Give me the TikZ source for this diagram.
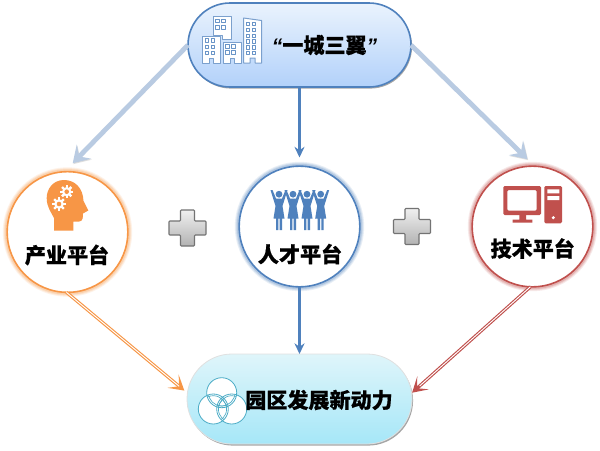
\documentclass[tikz,border=0pt]{standalone}
\usepackage{fontspec}
\newfontfamily\cjk{Noto Sans CJK SC}[BoldFeatures={FakeBold=0.6}]
\newfontfamily\latinq{Liberation Sans}
\usetikzlibrary{shadows,arrows.meta,calc,shapes.misc}
\definecolor{orangeC}{HTML}{F79646}
\definecolor{blueC}{HTML}{4F81BD}
\definecolor{redC}{HTML}{C0504D}
\definecolor{tealC}{HTML}{4BACC6}
\definecolor{paleC}{HTML}{B9CBE2}
\tikzset{
  every node/.style={inner sep=0pt,outer sep=0pt},
  label text/.style={font=\cjk\bfseries\fontsize{15.8pt}{18pt}\selectfont,text=black},
  pill/.style={rounded rectangle,minimum width=#1*0.75pt,
    drop shadow={shadow xshift=0.8pt,shadow yshift=-1.2pt,opacity=.35,fill=black}},
  glow/.style={
    preaction={draw=#1,line width=6.5pt,opacity=.12},
    preaction={draw=#1,line width=5pt,opacity=.16},
    preaction={draw=#1,line width=3.5pt,opacity=.22},
    draw=#1,line width=1.2pt,fill=white,circle,minimum size=90.5pt},
  palearrow/.style={draw=paleC,line width=3.6pt,-{Stealth[length=12pt,width=15pt,inset=5pt]},
    preaction={draw=black!25,opacity=.5,transform canvas={xshift=.5pt,yshift=-.7pt}}},
  straightarrow/.style={draw=blueC,line width=1.7pt,-{Stealth[length=8pt,width=7.5pt]}},
  dblarrow/.style={draw=#1,line width=2.4pt,-{Stealth[length=11pt,width=13pt,inset=6pt]},
    postaction={draw=white,line width=.7pt,-{},shorten >=8pt}},
  plus/.style={draw=black!55,line width=.8pt,top color=black!6,bottom color=black!30},
  iconline/.style={draw=#1,line width=.75pt,fill=white},
  win/.style={draw=blueC!85!white,line width=.55pt,fill=white},
  x=0.75pt,y=-0.75pt}
\begin{document}
\begin{tikzpicture}
\useasboundingbox[fill=white] (0,0) rectangle (600,450);
\definecolor{topA}{HTML}{EAF3FD}\definecolor{topB}{HTML}{CFE2FB}\definecolor{topC}{HTML}{B2D1FA}
\definecolor{botA}{HTML}{DFF5FA}\definecolor{botB}{HTML}{C6EEF8}\definecolor{botC}{HTML}{A6E7F8}

% main shapes
\node[pill=223,minimum height=63pt,draw=blueC,line width=1.2pt,top color=topA,middle color=topB,bottom color=topC] (top) at (299.5,45) {};
\node[pill=225,minimum height=67.5pt,draw=white!88!black,line width=.6pt,top color=botA,middle color=botB,bottom color=botC] (bottom) at (299.5,399) {};
\node[glow=orangeC] (left) at (67.5,232) {};
\node[glow=blueC] (mid) at (299.5,226.5) {};
\node[glow=redC] (right) at (532.5,226.5) {};

% connectors
\draw[palearrow,shorten >=9pt] (top.west) -- (left.93);
\draw[palearrow,shorten >=7.5pt] (top.east) -- (right.88);
\draw[straightarrow,shorten >=6.5pt] (top.south) -- (mid.north);
\draw[straightarrow] (mid.south) -- (bottom.north);
\draw[dblarrow=orangeC,shorten >=3pt] (left.-91) -- (bottom.177);
\draw[dblarrow=redC,shorten >=.5pt] (right.-92) -- (bottom.3);

% plus signs
\foreach \cx/\cy/\nm in {187.5/228/plusA,412/226.5/plusB}{
  \coordinate (\nm) at (\cx,\cy);
  \draw[plus,rounded corners=.6pt] ($(\nm)+(-7,-18)$) -- ++(14,0) -- ++(0,11) -- ++(11.5,0) -- ++(0,14) -- ++(-11.5,0)
    -- ++(0,11) -- ++(-14,0) -- ++(0,-11) -- ++(-11.5,0) -- ++(0,-14) -- ++(11.5,0) -- cycle;
}

% buildings icon
\begin{scope}[blueC,line join=round]
\draw[iconline=blueC!75!white] (213,16) -- (231,16) -- (231,39) -- (222,39) -- (222,35) -- (213,35) -- cycle;
\draw[iconline=blueC!75!white] (202.5,36) -- (220.5,36) -- (220.5,63) -- (213.5,63) -- (213.5,58) -- (209.5,58) -- (209.5,63) -- (202.5,63) -- cycle;
\draw[iconline=blueC!75!white] (223,42) -- (241,42) -- (241,63) -- (234,63) -- (234,58) -- (230,58) -- (230,63) -- (223,63) -- cycle;
\draw[iconline=blueC!75!white] (243.5,18) -- (261.5,20.5) -- (261.5,63) -- (255,63) -- (255,58) -- (250,58) -- (250,63) -- (243.5,63) -- cycle;
\foreach \wx/\wy in {217.5/21,223.5/21,217.5/27.5,223.5/27.5,
  207/40.5,213/40.5,207/47,213/47,207/53,213/53,
  227.5/46.5,233.5/46.5,227.5/52.5,233.5/52.5,
  248/24,254/24,248/30,254/30,248/36,254/36,248/41.5,254/41.5,248/47.5,254/47.5,248/53,254/53}
  \draw[win] (\wx-1.7,\wy-1.7) rectangle (\wx+1.7,\wy+1.7);
\end{scope}

% head icon
\fill[orangeC] (54,230.7) -- (73.3,230.7) -- (73.3,221.5) -- (79,221.5)
  .. controls (83,221.5) and (83,217) .. (83,213.5) -- (88.3,210.5) -- (83.5,201)
  .. controls (83,188) and (75,180) .. (64,180)
  .. controls (53,180) and (46.7,189) .. (46.7,198)
  .. controls (46.7,207) and (51,212) .. (54,218) -- cycle;
\foreach \gx/\gy/\gr in {66.7/191.7/4.6,59/204/4.8}{
  \foreach \ga in {0,45,...,315}
    \draw[white,line width=1.8pt] (\gx,\gy) -- ++(\ga:\gr+2);
  \fill[white] (\gx,\gy) circle[radius=\gr];
  \fill[orangeC] (\gx,\gy) circle[radius=2.3];
}

% people icon
\foreach \px in {279,293,307,320.7}{
  \fill[blueC] (\px,194.2) circle[radius=3.4];
  \fill[blueC] (\px-8.5,190) -- (\px-6.5,190) -- (\px-3,198.5) -- (\px+3,198.5) -- (\px+6.5,190) -- (\px+8.5,190)
    -- (\px+3.5,206) -- (\px+5.5,218.5) -- (\px+3,218.5) -- (\px+3,230) -- (\px+.7,230) -- (\px+.7,218.5)
    -- (\px-.7,218.5) -- (\px-.7,230) -- (\px-3,230) -- (\px-3,218.5) -- (\px-5.5,218.5) -- (\px-3.5,206) -- cycle;
}

% computer icon
\fill[redC,rounded corners=1pt,even odd rule] (503.3,186) rectangle (541,215) (507.3,190) rectangle (536.7,210.7);
\fill[redC] (519.3,215) rectangle (526,220) (512.7,219.5) rectangle (532.3,222.7);
\fill[redC,rounded corners=1pt] (544.3,186) rectangle (562,223.3);
\fill[white] (547.3,189.3) rectangle (559.3,193.3) (547.3,196) rectangle (559.3,200) (553.3,217.7) circle[radius=1.7];

% venn icon
\begin{scope}
\coordinate (va) at (221.7,392.7);
\coordinate (vb) at (213.3,409);
\coordinate (vc) at (231.7,409);
\fill[white] (va) circle[radius=15] (vb) circle[radius=15] (vc) circle[radius=15];
\foreach \q in {va,vb,vc} \draw[tealC,line width=.6pt] (\q) circle[radius=15];
\begin{scope}\clip (va) circle[radius=15];
  \draw[tealC,line width=.5pt] (vb) circle[radius=13.3] (vc) circle[radius=13.3];\end{scope}
\begin{scope}\clip (vb) circle[radius=15];
  \draw[tealC,line width=.5pt] (va) circle[radius=13.3] (vc) circle[radius=13.3];\end{scope}
\begin{scope}\clip (vc) circle[radius=15];
  \draw[tealC,line width=.5pt] (va) circle[radius=13.3] (vb) circle[radius=13.3];\end{scope}
\end{scope}

% labels
\node[label text] (t1) at (324.5,45) {{\latinq\itshape “}一城三翼{\latinq\itshape ”}};
\node[label text] (t2) at (67,255) {产业平台};
\node[label text] (t3) at (300,254) {人才平台};
\node[label text] (t4) at (532.7,248.5) {技术平台};
\node[label text] (t5) at (319,400) {园区发展新动力};
\end{tikzpicture}
\end{document}
